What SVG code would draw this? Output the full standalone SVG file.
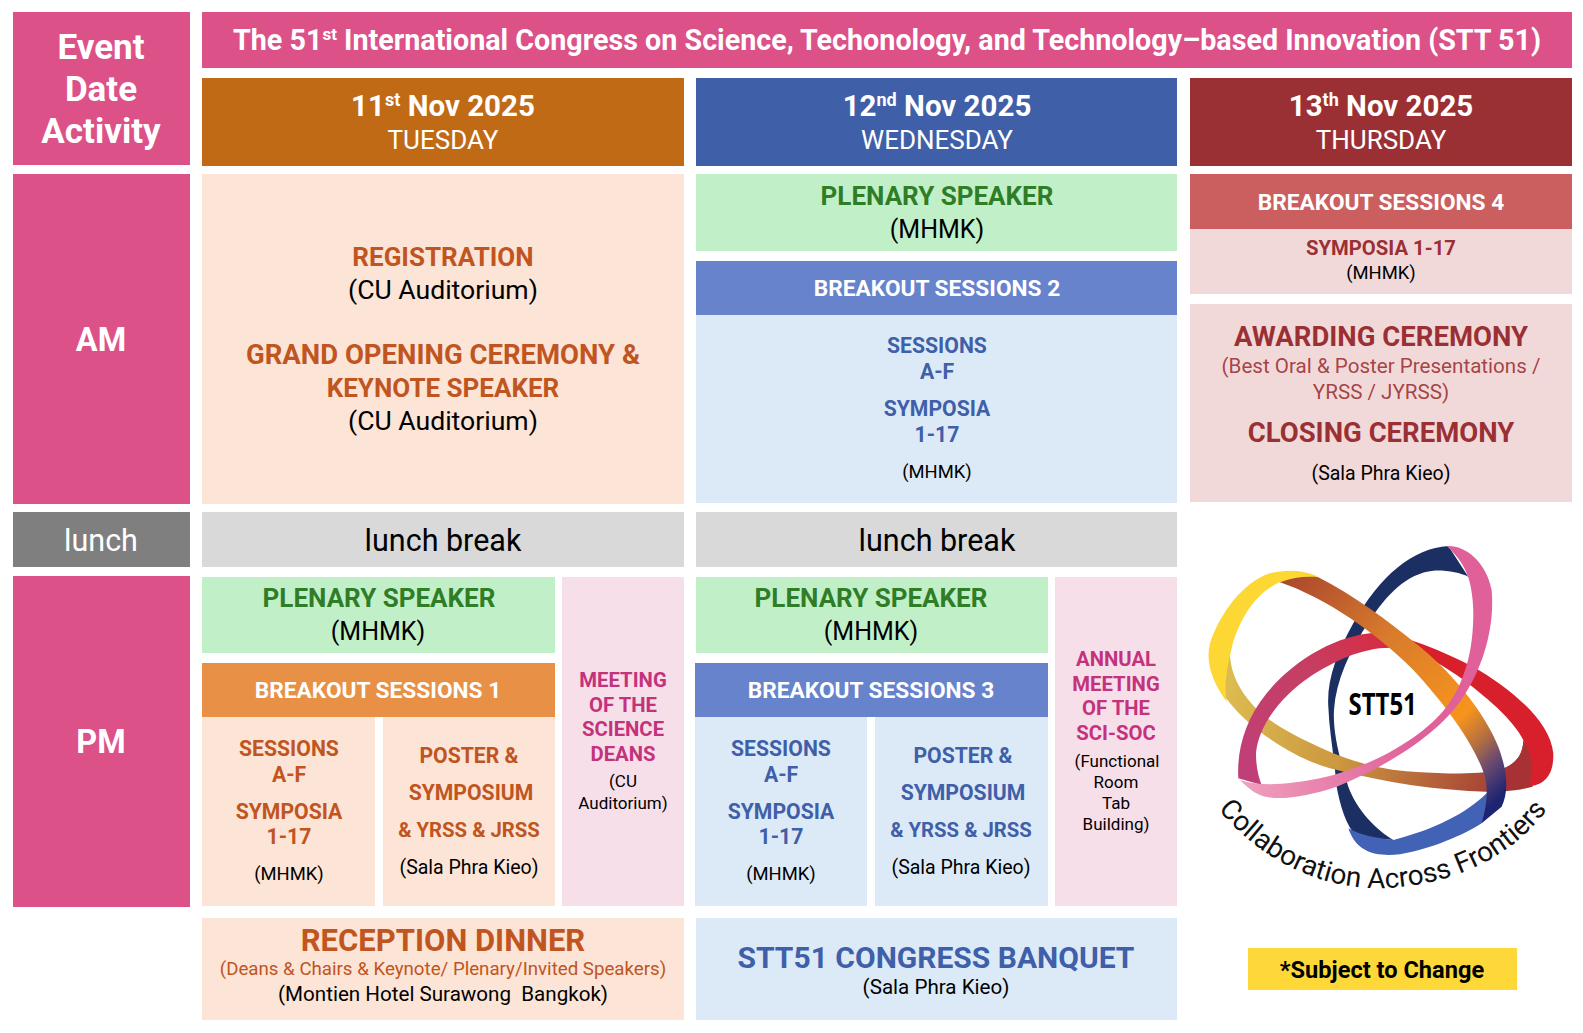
<svg xmlns="http://www.w3.org/2000/svg" width="1583" height="1033" viewBox="0 0 1583 1033">
<style>
text{font-family:Roboto,"Liberation Sans",sans-serif;text-anchor:middle}
.logo{font-family:"Open Sans","Noto Sans",sans-serif}
.b{font-weight:700}
.w{fill:#fff}.k{fill:#000}
.or{fill:#c0551f}.bl{fill:#3f5fa8}.gr{fill:#2f7d26}.ma{fill:#c4327c}.dr{fill:#9b3034}
.pink{fill:#dd5189}.bo{fill:#fce4d6}.bb{fill:#dceaf7}.bg{fill:#c1f0c8}.bp{fill:#f6dfe9}.bn{fill:#d9d9d9}.be{fill:#f2d9d9}
.big{font-size:35px}.am{font-size:32.5px}.title{font-size:28.7px}.day{font-size:29.5px}.wd{font-size:26px}.lb{font-size:30.5px}
.h26{font-size:26px}.h27{font-size:27.5px}.h31{font-size:31px}.f26{font-size:26.6px}.f25{font-size:25px}.f22{font-size:22.7px}.f21{font-size:21.2px}.f20{font-size:20.3px}.f19{font-size:19.5px}.f18{font-size:18.4px}.f17{font-size:17px}.dn{font-size:18.7px}.f20b{font-size:20.6px}
</style>
<defs>
<linearGradient id="gGold" gradientUnits="userSpaceOnUse" x1="150" y1="500" x2="1050" y2="800"><stop offset="0" stop-color="#dcbb50"/><stop offset=".4" stop-color="#cc9840"/><stop offset=".7" stop-color="#b5623a"/><stop offset="1" stop-color="#9c2f33"/></linearGradient>
<linearGradient id="gOrange" gradientUnits="userSpaceOnUse" x1="330" y1="180" x2="960" y2="830"><stop offset="0" stop-color="#ac4a2e"/><stop offset=".35" stop-color="#d77a2c"/><stop offset=".72" stop-color="#f7941d"/><stop offset=".82" stop-color="#b5703f"/><stop offset=".9" stop-color="#6b4a70"/><stop offset="1" stop-color="#1d2472"/></linearGradient>
<linearGradient id="gCrim" gradientUnits="userSpaceOnUse" x1="190" y1="760" x2="640" y2="350"><stop offset="0" stop-color="#bf3f78"/><stop offset=".6" stop-color="#c63e62"/><stop offset="1" stop-color="#d82a3f"/></linearGradient>
<linearGradient id="gPink" gradientUnits="userSpaceOnUse" x1="190" y1="800" x2="700" y2="690"><stop offset="0" stop-color="#ef9fbd"/><stop offset="1" stop-color="#e0619a"/></linearGradient>
</defs>

<g id="header-label"><rect class="pink" x="13" y="12" width="177" height="153"/>
<text class="w b big" x="101" y="59">Event</text><text class="w b big" x="101" y="101">Date</text><text class="w b big" x="101" y="143">Activity</text></g>
<g id="title"><rect class="pink" x="202" y="12" width="1370" height="56"/>
<text class="w b title" x="887" y="50">The 51<tspan font-size="17" dy="-10">st</tspan><tspan dy="10"> International Congress on Science, Techonology, and Technology–based Innovation (STT 51)</tspan></text></g>

<g id="day1"><rect x="202" y="78" width="482" height="88" fill="#c16a16"/>
<text class="w b day" x="443" y="116">11<tspan font-size="18" dy="-10">st</tspan><tspan dy="10"> Nov 2025</tspan></text><text class="w wd" x="443" y="149">TUESDAY</text></g>
<g id="day2"><rect x="696" y="78" width="481" height="88" fill="#3f5fa8"/>
<text class="w b day" x="937" y="116">12<tspan font-size="18" dy="-10">nd</tspan><tspan dy="10"> Nov 2025</tspan></text><text class="w wd" x="937" y="149">WEDNESDAY</text></g>
<g id="day3"><rect x="1190" y="78" width="382" height="88" fill="#9b3034"/>
<text class="w b day" x="1381" y="116">13<tspan font-size="18" dy="-10">th</tspan><tspan dy="10"> Nov 2025</tspan></text><text class="w wd" x="1381" y="149">THURSDAY</text></g>

<g id="am"><rect class="pink" x="13" y="174" width="177" height="330"/><text class="w b am" x="101" y="351">AM</text></g>
<g id="registration"><rect class="bo" x="202" y="174" width="482" height="330"/>
<text class="or b h26" x="443" y="266">REGISTRATION</text><text class="k f26" x="443" y="299">(CU Auditorium)</text>
<text class="or b h27" x="443" y="364">GRAND OPENING CEREMONY &amp;</text><text class="or b h26" x="443" y="397">KEYNOTE SPEAKER</text><text class="k f26" x="443" y="430">(CU Auditorium)</text></g>
<g id="plenary-wed-am"><rect class="bg" x="696" y="174" width="481" height="77"/>
<text class="gr b h26" x="937" y="205">PLENARY SPEAKER</text><text class="k f25" x="937" y="238">(MHMK)</text></g>
<g id="breakout2"><rect x="696" y="261" width="481" height="54" fill="#6783cc"/><rect class="bb" x="696" y="315" width="481" height="188"/>
<text class="w b f22" x="937" y="296">BREAKOUT SESSIONS 2</text>
<text class="bl b f21" x="937" y="353">SESSIONS</text><text class="bl b f21" x="937" y="379">A-F</text><text class="bl b f21" x="937" y="416">SYMPOSIA</text><text class="bl b f21" x="937" y="442">1-17</text><text class="k f18" x="937" y="478">(MHMK)</text></g>
<g id="breakout4"><rect x="1190" y="174" width="382" height="55" fill="#cb5f60"/><rect class="be" x="1190" y="229" width="382" height="65"/>
<text class="w b f22" x="1381" y="210">BREAKOUT SESSIONS 4</text><text class="dr b f20" x="1381" y="255">SYMPOSIA 1-17</text><text class="k f18" x="1381" y="279">(MHMK)</text></g>
<g id="awarding"><rect class="be" x="1190" y="304" width="382" height="198"/>
<text class="dr b h27" x="1381" y="346">AWARDING CEREMONY</text><text class="dr f20b" x="1381" y="373" fill-opacity=".9">(Best Oral &amp; Poster Presentations /</text><text class="dr f20b" x="1381" y="399" fill-opacity=".9">YRSS / JYRSS)</text>
<text class="dr b h27" x="1381" y="442">CLOSING CEREMONY</text><text class="k f19" x="1381" y="480">(Sala Phra Kieo)</text></g>

<g id="lunch"><rect x="13" y="512" width="177" height="55" fill="#7f7f7f"/><text class="w lb" x="101" y="551">lunch</text></g>
<g id="lunch1"><rect class="bn" x="202" y="512" width="482" height="55"/><text class="k lb" x="443" y="551">lunch break</text></g>
<g id="lunch2"><rect class="bn" x="696" y="512" width="481" height="55"/><text class="k lb" x="937" y="551">lunch break</text></g>

<g id="pm"><rect class="pink" x="13" y="576" width="177" height="331"/><text class="w b am" x="101" y="753">PM</text></g>
<g id="plenary-tue"><rect class="bg" x="202" y="577" width="353" height="76"/>
<text class="gr b h26" x="379" y="607">PLENARY SPEAKER</text><text class="k f25" x="378" y="640">(MHMK)</text></g>
<g id="breakout1"><rect x="202" y="663" width="353" height="54" fill="#e89146"/><text class="w b f22" x="378" y="698">BREAKOUT SESSIONS 1</text>
<rect class="bo" x="202" y="717" width="173" height="189"/><rect class="bo" x="383" y="717" width="172" height="189"/>
<text class="or b f21" x="289" y="756">SESSIONS</text><text class="or b f21" x="289" y="782">A-F</text><text class="or b f21" x="289" y="819">SYMPOSIA</text><text class="or b f21" x="289" y="844">1-17</text><text class="k f18" x="289" y="880">(MHMK)</text>
<text class="or b f21" x="469" y="763">POSTER &amp;</text><text class="or b f21" x="471" y="800">SYMPOSIUM</text><text class="or b f20" x="469" y="837">&amp; YRSS &amp; JRSS</text><text class="k f19" x="469" y="874">(Sala Phra Kieo)</text></g>
<g id="meeting-deans"><rect class="bp" x="562" y="577" width="122" height="329"/>
<text class="ma b f20" x="623" y="687">MEETING</text><text class="ma b f20" x="623" y="712">OF THE</text><text class="ma b f20" x="623" y="736">SCIENCE</text><text class="ma b f20" x="623" y="761">DEANS</text><text class="k f17" x="623" y="787">(CU</text><text class="k f17" x="623" y="809">Auditorium)</text></g>

<g id="plenary-wed-pm"><rect class="bg" x="696" y="577" width="352" height="76"/>
<text class="gr b h26" x="871" y="607">PLENARY SPEAKER</text><text class="k f25" x="871" y="640">(MHMK)</text></g>
<g id="breakout3"><rect x="695" y="663" width="353" height="54" fill="#6783cc"/><text class="w b f22" x="871" y="698">BREAKOUT SESSIONS 3</text>
<rect class="bb" x="695" y="717" width="172" height="189"/><rect class="bb" x="875" y="717" width="173" height="189"/>
<text class="bl b f21" x="781" y="756">SESSIONS</text><text class="bl b f21" x="781" y="782">A-F</text><text class="bl b f21" x="781" y="819">SYMPOSIA</text><text class="bl b f21" x="781" y="844">1-17</text><text class="k f18" x="781" y="880">(MHMK)</text>
<text class="bl b f21" x="963" y="763">POSTER &amp;</text><text class="bl b f21" x="963" y="800">SYMPOSIUM</text><text class="bl b f20" x="961" y="837">&amp; YRSS &amp; JRSS</text><text class="k f19" x="961" y="874">(Sala Phra Kieo)</text></g>
<g id="annual-meeting"><rect class="bp" x="1055" y="577" width="122" height="329"/>
<text class="ma b f20" x="1116" y="666">ANNUAL</text><text class="ma b f20" x="1116" y="691">MEETING</text><text class="ma b f20" x="1116" y="715">OF THE</text><text class="ma b f20" x="1116" y="740">SCI-SOC</text><text class="k f17" x="1117" y="767">(Functional</text><text class="k f17" x="1116" y="788">Room</text><text class="k f17" x="1116" y="809">Tab</text><text class="k f17" x="1116" y="830">Building)</text></g>

<g id="reception"><rect class="bo" x="202" y="918" width="482" height="102"/>
<text class="or b h31" x="443" y="951">RECEPTION DINNER</text><text class="or dn" x="443" y="975">(Deans &amp; Chairs &amp; Keynote/ Plenary/Invited Speakers)</text><text class="k f20b" x="443" y="1001">(Montien Hotel Surawong&#160; Bangkok)</text></g>
<g id="banquet"><rect class="bb" x="696" y="918" width="481" height="102"/>
<text class="bl b" x="936" y="968" style="font-size:30px">STT51 CONGRESS BANQUET</text><text class="k f20b" x="936" y="994">(Sala Phra Kieo)</text></g>
<g id="note"><rect x="1248" y="948" width="269" height="42" fill="#fdd838"/><text class="k b" style="font-size:23.6px" x="1382" y="978">*Subject to Change</text></g>

<g id="logo" transform="translate(1180 520) scale(.3333)">
<path fill="#1c2f63" d="M805 78C700 85 600 165 520 310C470 400 440 480 445 560C448 640 465 720 468 790C480 860 500 920 530 950L640 960C590 930 530 870 505 800C480 720 458 640 462 570C468 480 510 390 570 300C620 225 680 160 760 152C800 150 840 158 865 170Z"/>
<path fill="#4263b5" d="M505 925C530 1000 590 1010 660 1003C760 985 850 945 905 910L975 810L920 820C860 880 760 930 640 960C590 955 540 945 505 925Z"/>
<path fill="url(#gGold)" d="M150 385C145 470 200 560 300 620C420 690 560 750 700 755C820 762 910 765 975 745C1010 730 1030 700 1030 660L1058 800C1000 815 960 815 920 815C780 812 620 790 450 745C330 710 200 620 135 530L120 450Z"/>
<path fill="#d8202c" d="M585 338C680 345 790 395 880 440C990 505 1110 600 1120 700C1122 770 1090 795 1045 800C1058 750 1050 700 1030 660C1000 600 920 530 830 465C770 425 700 385 640 385Z"/>
<path fill="#a83136" d="M1030 660C1058 700 1062 760 1045 800L975 812L970 745C1010 730 1030 700 1030 660Z"/>
<path fill="url(#gCrim)" d="M175 775C170 690 195 600 260 520C340 420 470 345 585 338C610 340 640 360 660 385C560 375 470 420 390 470C300 530 235 620 228 700C228 740 235 770 245 795Z"/>
<path fill="#fdd835" d="M415 170C370 150 320 148 270 160C190 185 120 280 90 370C75 430 100 490 140 545C130 490 145 430 155 385C175 300 230 215 300 187C340 178 380 172 415 170Z"/>
<path fill="url(#gOrange)" d="M300 187C340 172 380 168 415 172C520 225 620 300 720 380C830 470 920 590 955 680C985 760 985 820 965 860L905 910C920 860 925 810 915 770C890 690 820 580 700 450C590 340 440 235 300 187Z"/>
<path fill="url(#gPink)" d="M180 780C240 800 320 795 420 775C580 740 730 650 800 560C860 480 880 380 880 280C880 230 870 180 860 160C850 130 820 95 800 78C860 75 920 130 935 210C945 320 910 440 850 530C780 640 620 740 470 800C380 830 290 845 240 825C215 815 195 795 180 780Z"/>
<text class="logo" x="608" y="585" font-weight="700" font-size="90" fill="#000" textLength="205" lengthAdjust="spacingAndGlyphs">STT51</text>
<path id="arc" fill="none" d="M100 850C250 1040 440 1105 600 1105C790 1100 990 1030 1115 850"/>
<text font-size="84" fill="#111" style="font-family:Roboto,sans-serif"><textPath href="#arc" startOffset="50%">Collaboration Across Frontiers</textPath></text>
</g>
</svg>
